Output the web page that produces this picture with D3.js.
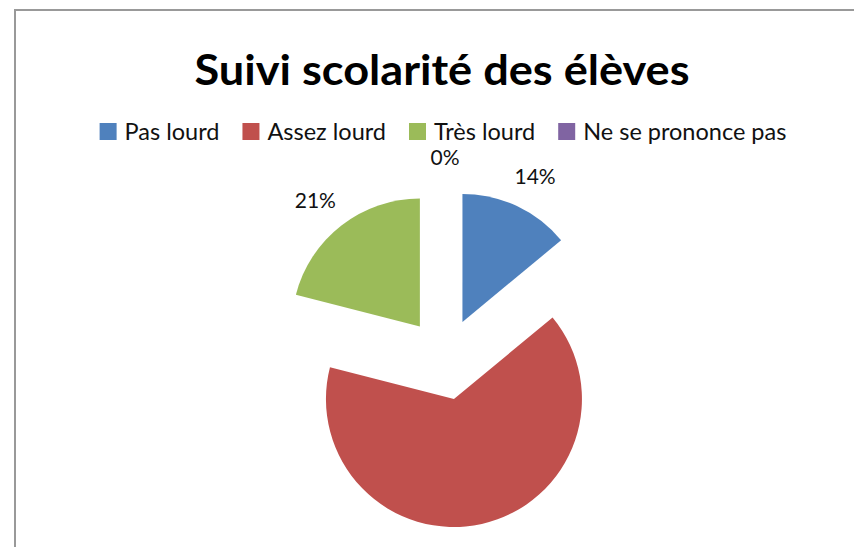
<!DOCTYPE html>
<html>
<head>
<meta charset="utf-8">
<script src="https://cdn.jsdelivr.net/npm/d3@7"></script>
<style>
  html, body { margin: 0; padding: 0; background: #fff; }
  svg { display: block; font-family: Lato, "Open Sans", sans-serif; }
</style>
</head>
<body>
<svg id="chart"></svg>
<script>
// chart data
const title = 'Suivi scolarité des élèves';
const categories = ['Pas lourd', 'Assez lourd', 'Très lourd', 'Ne se prononce pas'];
const values = [14, 65, 21, 0];
const colors = ['#4f81bd', '#c0504d', '#9bbb59', '#8064a2'];

const width = 854, height = 547;
const cx = 445, cy = 359;     // pie centre
const radius = 128;
const explode = 41;           // every slice is pulled out
const labelGap = 22;

const svg = d3.select('#chart')
    .attr('width', width)
    .attr('height', height);

// chart area frame (only the top and left edges are visible)
svg.append('path')
    .attr('d', `M15,${height} L15,10 L${width},10`)
    .attr('fill', 'none')
    .attr('stroke', '#999')
    .attr('stroke-width', 2);

// title
svg.append('text')
    .attr('x', 442)
    .attr('y', 85)
    .attr('text-anchor', 'middle')
    .attr('font-size', 42)
    .attr('font-weight', 'bold')
    .attr('fill', '#000')
    .attr('textLength', 495)
    .attr('lengthAdjust', 'spacingAndGlyphs')
    .text(title);

// legend
const legend = svg.append('g');
let lx = 0;
categories.forEach((c, i) => {
    const item = legend.append('g').attr('transform', `translate(${lx},0)`);
    item.append('rect')
        .attr('x', 0).attr('y', 123)
        .attr('width', 17).attr('height', 17)
        .attr('fill', colors[i]);
    const t = item.append('text')
        .attr('x', 25)
        .attr('y', 140)
        .attr('font-size', 23.5)
        .attr('fill', '#111')
        .text(c);
    lx += 25 + t.node().getComputedTextLength() + 23;
});
const legendWidth = lx - 23;
legend.attr('transform', `translate(${443 - legendWidth / 2},0)`);

// pie
const pie = d3.pie().sort(null).value(d => d);
const arcs = pie(values);
const arc = d3.arc().innerRadius(0).outerRadius(radius);

const mid = d => (d.startAngle + d.endAngle) / 2;
const along = (a, r) => [Math.sin(a) * r, -Math.cos(a) * r];

const slices = svg.append('g').attr('transform', `translate(${cx},${cy})`);

slices.selectAll('path')
    .data(arcs)
    .join('path')
    .attr('transform', d => {
        const [dx, dy] = along(mid(d), explode);
        return `translate(${dx},${dy})`;
    })
    .attr('d', arc)
    .attr('fill', (d, i) => colors[i]);

// data labels outside the end of each slice, box pushed away from the arc
const labels = slices.selectAll('text')
    .data(arcs)
    .join('text')
    .attr('text-anchor', 'middle')
    .attr('dy', '0.35em')
    .attr('font-size', 21)
    .attr('fill', '#111')
    .text(d => d.data + '%');

labels.attr('transform', function (d) {
    const a = mid(d);
    const hw = this.getComputedTextLength() / 2;
    const hh = 10;
    const [px, py] = along(a, explode + radius + labelGap);
    return `translate(${px + Math.sin(a) * hw},${py - Math.cos(a) * hh})`;
});
</script>
</body>
</html>
